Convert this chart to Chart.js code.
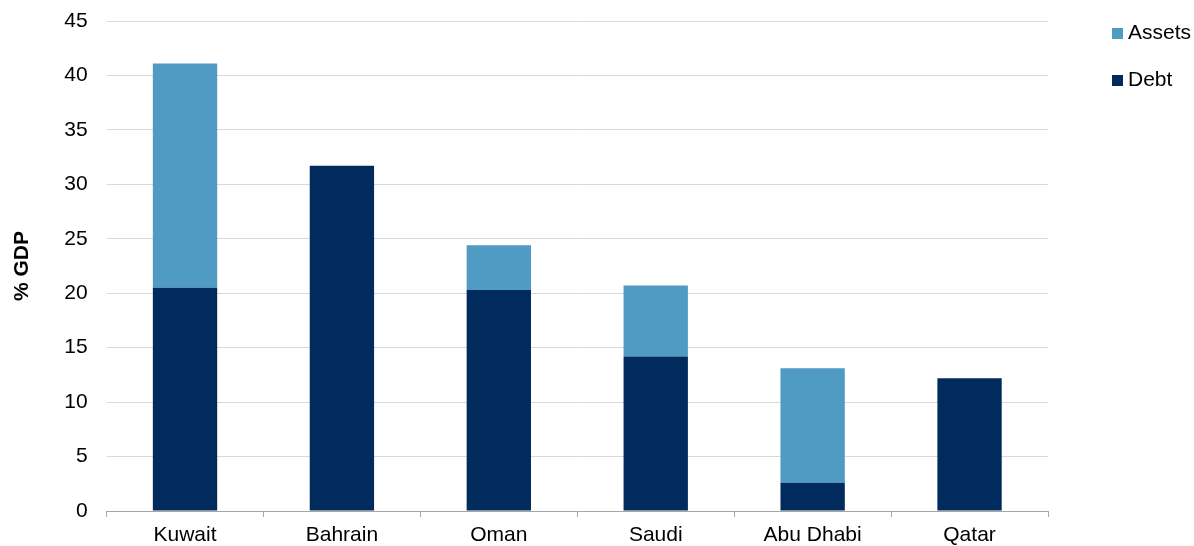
<!DOCTYPE html>
<html>
<head>
<meta charset="utf-8">
<script src="https://cdn.jsdelivr.net/npm/chart.js@4"></script>
<style>
  html, body { margin: 0; padding: 0; background: #fff; }
  #wrap { width: 1194px; height: 546px; }
</style>
</head>
<body>
<div id="wrap"><canvas id="myChart" width="1194" height="546"></canvas></div>
<script>
var countries = ['Kuwait', 'Bahrain', 'Oman', 'Saudi', 'Abu Dhabi', 'Qatar']
var debt = [20.5, 31.7, 20.3, 14.2, 2.6, 12.2]
var assets = [20.6, 0, 4.1, 6.5, 10.5, 0]
var yTicks = [0, 5, 10, 15, 20, 25, 30, 35, 40, 45]

Chart.defaults.font.family = '"Liberation Sans", Arial, sans-serif'
Chart.defaults.font.size = 21
Chart.defaults.color = '#000'

// legend drawn by hand so it can sit well right of the plot
var sideLegend = {
  id: 'sideLegend',
  afterDraw: function (c) {
    var ctx = c.ctx
    var sets = c.data.datasets.slice().reverse()
    ctx.save()
    ctx.font = '21px "Liberation Sans", Arial, sans-serif'
    ctx.textBaseline = 'middle'
    sets.forEach(function (ds, i) {
      var y = 33 + i * 47
      ctx.fillStyle = ds.backgroundColor
      ctx.fillRect(1112, y - 5, 11, 11)
      ctx.fillStyle = '#000'
      ctx.fillText(ds.label, 1128, y)
    })
    ctx.restore()
  }
}

var chart = new Chart('myChart', {
  type: 'bar',
  data: {
    labels: countries,
    datasets: [{
      label: 'Debt',
      backgroundColor: '#002B5C',
      data: debt,
      categoryPercentage: 0.41,
      barPercentage: 1
    }, {
      label: 'Assets',
      backgroundColor: '#4F9BC3',
      data: assets,
      categoryPercentage: 0.41,
      barPercentage: 1
    }]
  },
  plugins: [sideLegend],
  options: {
    responsive: false,
    animation: false,
    layout: { padding: { top: 21, right: 146, left: 6, bottom: 0 } },
    plugins: {
      tooltip: { enabled: false },
      legend: { display: false }
    },
    scales: {
      x: {
        stacked: true,
        afterFit: function (s) { s.height = 35; s.paddingLeft = 0; s.paddingRight = 0 },
        grid: {
          offset: true,
          drawOnChartArea: false,
          drawTicks: true,
          tickLength: 6,
          color: '#a6a6a6'
        },
        border: { color: '#a6a6a6', width: 1 },
        ticks: { padding: 6 }
      },
      y: {
        stacked: true,
        min: 0,
        max: 45,
        afterFit: function (s) { s.paddingTop = 0; s.paddingBottom = 0 },
        afterBuildTicks: function (axis) {
          axis.ticks = yTicks.map(function (v) { return { value: v } })
        },
        grid: { color: '#d9d9d9', drawTicks: false },
        border: { display: false },
        ticks: { padding: 19 },
        title: {
          display: true,
          text: '% GDP',
          font: { weight: 'bold' },
          padding: { bottom: 10 }
        }
      }
    }
  }
})
</script>
</body>
</html>
